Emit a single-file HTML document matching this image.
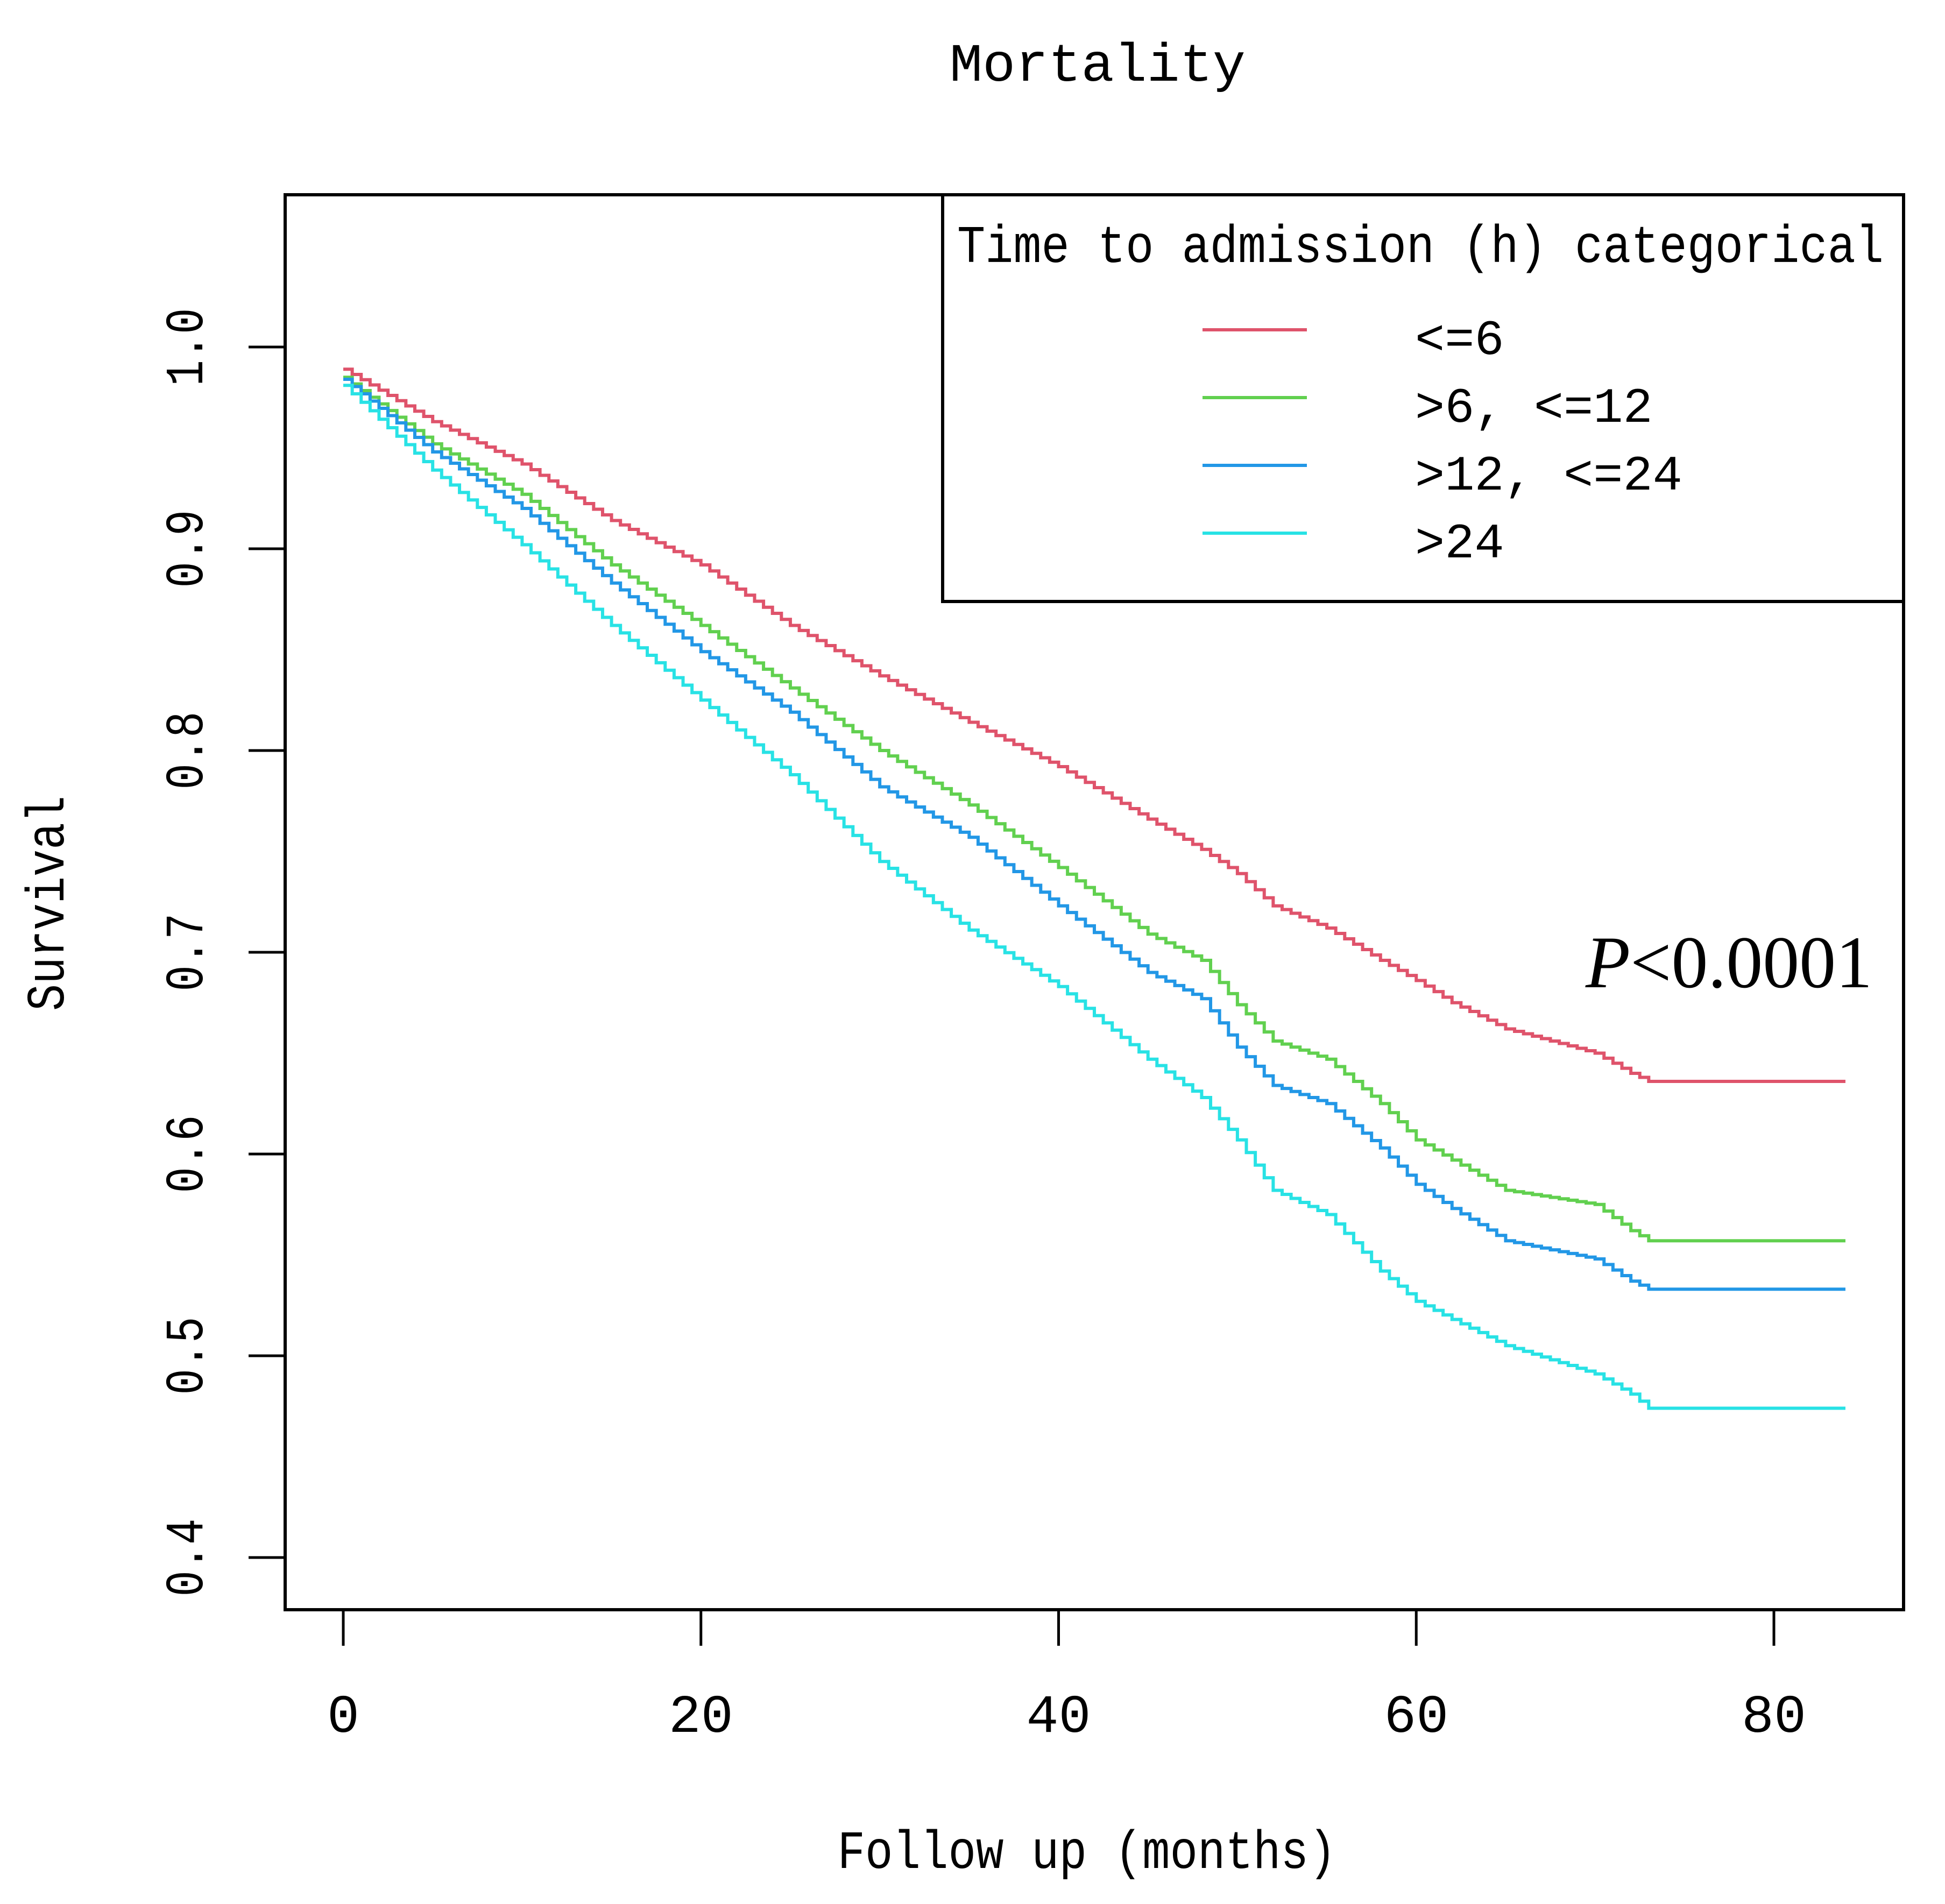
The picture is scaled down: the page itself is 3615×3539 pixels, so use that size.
<!DOCTYPE html>
<html><head><meta charset="utf-8"><style>html,body{margin:0;padding:0;background:#fff}svg{display:block}</style></head>
<body>
<svg id="chart" xmlns="http://www.w3.org/2000/svg" width="3615" height="3539" viewBox="0 0 3615 3539" font-family="'Liberation Mono', 'Noto Sans CJK SC', monospace">
<rect width="3615" height="3539" fill="#fff"/>
<text x="2040" y="150" text-anchor="middle" font-size="100" textLength="550" lengthAdjust="spacingAndGlyphs">Mortality</text>
<rect x="530" y="362" width="3008" height="2630" fill="none" stroke="#000" stroke-width="6"/>
<g id="axes"></g>
<g id="series"></g>
<g>
<rect x="1752" y="362" width="1786" height="756" fill="#fff" stroke="#000" stroke-width="6"/>
<text x="1779" y="487" font-size="98" textLength="1722" lengthAdjust="spacingAndGlyphs">Time to admission (h) categorical</text>
<g id="legend-entries"></g>
</g>
<text x="2947" y="1835" font-family="'Liberation Serif', serif" font-size="138" textLength="533" lengthAdjust="spacingAndGlyphs"><tspan font-style="italic">P</tspan>&lt;0.0001</text>
<text x="2020" y="3472" text-anchor="middle" font-size="100" textLength="927" lengthAdjust="spacingAndGlyphs">Follow up (months)</text>
<text transform="translate(118,1679) rotate(-90)" text-anchor="middle" font-size="100" textLength="400" lengthAdjust="spacingAndGlyphs">Survival</text>
</svg>
<script>
const times = [0,5,10,15,20,25,30,35,40,45,48,50,52,55,58,60,62,65,70,72,73,84];
const seriesNames = ["<=6", ">6,  <=12", ">12,  <=24", ">24"];
const seriesColors = ["#DF536B","#61D04F","#2297E6","#28E2E5"];
const survLe6 = [0.989,0.963,0.942,0.914,0.892,0.862,0.837,0.814,0.792,0.766,0.751,0.739,0.723,0.712,0.696,0.686,0.675,0.662,0.650,0.640,0.636,0.636];
const surv6to12 = [0.985,0.952,0.927,0.892,0.862,0.831,0.800,0.773,0.742,0.709,0.696,0.674,0.656,0.647,0.625,0.607,0.597,0.582,0.575,0.562,0.557,0.557];
const surv12to24 = [0.984,0.948,0.920,0.883,0.849,0.819,0.782,0.757,0.723,0.690,0.677,0.653,0.634,0.625,0.603,0.585,0.573,0.557,0.548,0.537,0.533,0.533];
const survGt24 = [0.981,0.939,0.902,0.862,0.825,0.788,0.745,0.711,0.683,0.647,0.628,0.607,0.582,0.570,0.542,0.527,0.518,0.505,0.491,0.481,0.474,0.474];
const xTicks = [0,20,40,60,80];
const yTicks = [0.4,0.5,0.6,0.7,0.8,0.9,1.0];
const yTickLabels = ["0.4","0.5","0.6","0.7","0.8","0.9","1.0"];

const NS="http://www.w3.org/2000/svg";
function xs(t){return 638 + t*(3297-638)/80;}
function ys(v){return 645 + (1-v)*(2895-645)/0.6;}
function mk(tag,attrs,parent){const e=document.createElementNS(NS,tag);for(const k in attrs)e.setAttribute(k,attrs[k]);parent.appendChild(e);return e;}
const axes=document.getElementById('axes');
xTicks.forEach(t=>{
  const l=mk('line',{x1:xs(t),x2:xs(t),y1:2992,y2:3059,stroke:'#000','stroke-width':5},axes);
  
  
  const tx=mk('text',{x:xs(t),y:3219,'text-anchor':'middle','font-size':100},axes);
  
  
  tx.textContent=String(t);
});
yTicks.forEach((v,i)=>{
  const l=mk('line',{x1:462,x2:530,y1:ys(v),y2:ys(v),stroke:'#000','stroke-width':5},axes);
  
  
  const tx=mk('text',{transform:`translate(376,${ys(v)}) rotate(-90)`,'text-anchor':'middle','font-size':100,textLength:145,lengthAdjust:'spacingAndGlyphs'},axes);
  
  
  tx.textContent=yTickLabels[i];
});
const allSeries=[survLe6,surv6to12,surv12to24,survGt24];
const sg=document.getElementById('series');
allSeries.forEach((vals,si)=>{
  let d=`M${xs(times[0])},${ys(vals[0])}`;
  for(let i=1;i<times.length;i++){
    // step curve with small intermediate steps between read points
    const t0=times[i-1],t1=times[i],v0=vals[i-1],v1=vals[i];
    const n=Math.max(1,Math.round((t1-t0)*2));
    for(let k=1;k<=n;k++){
      const t=t0+(t1-t0)*k/n, v=v0+(v1-v0)*k/n;
      d+=` H${xs(t)} V${ys(v)}`;
    }
  }
  const p=mk('path',{d:d,fill:'none',stroke:seriesColors[si],'stroke-width':6},sg);
  
  
});
const lg=document.getElementById('legend-entries');
seriesNames.forEach((name,i)=>{
  const y=613+i*126;
  const l=mk('line',{x1:2235,x2:2429,y1:y,y2:y,stroke:seriesColors[i],'stroke-width':6},lg);
  
  
  const tx=mk('text',{x:2630,y:y+45,'font-size':92,'xml:space':'preserve'},lg);
  
  
  tx.textContent=name;
});
</script>
</body></html>
